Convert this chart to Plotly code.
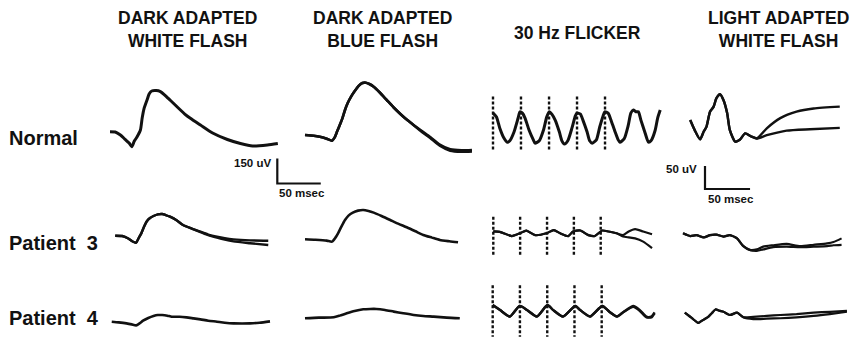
import plotly.graph_objects as go

W, H = 864, 341

# ---------------- data (time in ms, amplitude in uV) ----------------
# Dark adapted, white flash
DAW_N_T = [0, 6, 12, 17, 22, 25, 28, 31, 35, 37, 39, 43, 45, 48, 53, 58, 63, 69, 75, 81, 86, 92, 104, 118, 135, 150, 164, 181, 193]
DAW_N_V = [0, -2, -20, -44, -68, -90, -56, -32, 10, 82, 136, 196, 226, 244, 247, 241, 220, 190, 160, 130, 106, 82, 40, -8, -47, -71, -86, -80, -71]
DAW_P3_T = [6, 14, 21, 26, 30, 33, 36, 39, 42, 46, 50, 55, 60, 64, 69, 77, 84, 94, 104, 113, 123, 132, 142, 161, 182]
DAW_P3_VA = [0, -2, -17, -35, -42, -14, 14, 52, 84, 106, 118, 128, 130, 124, 114, 91, 64, 43, 24, 7, -6, -15, -22, -28, -30]
DAW_P3_VB = [0, -2, -17, -35, -42, -14, 14, 52, 84, 106, 118, 128, 130, 124, 114, 91, 64, 43, 22, 3, -12, -24, -34, -45, -56]
DAW_P4_T = [2, 10, 19, 25, 30, 34, 38, 44, 50, 55, 60, 66, 71, 80, 88, 96, 104, 113, 123, 132, 142, 152, 161, 172, 184]
DAW_P4_V = [0, -4, -10, -16, -22, -10, 6, 22, 34, 40, 40, 36, 30, 30, 26, 20, 14, 6, 0, -6, -10, -11, -10, -6, 2]

# Dark adapted, blue flash
DAB_N_T = [0, 10, 17, 25, 31, 34, 37, 40, 43, 46, 49, 53, 57, 62, 66, 70, 74, 79, 86, 94, 102, 110, 118, 126, 134, 144, 155, 167, 180, 192]
DAB_N_VA = [0, -4, -10, -22, -34, -16, 22, 60, 100, 150, 190, 230, 262, 296, 312, 314, 306, 290, 255, 210, 165, 125, 88, 56, 25, -12, -58, -86, -92, -90]
DAB_N_VB = [0, -4, -10, -22, -34, -16, 22, 60, 100, 150, 190, 230, 262, 296, 312, 314, 306, 290, 255, 210, 165, 125, 88, 54, 20, -18, -64, -94, -100, -98]
DAB_P3_T = [0, 12, 25, 31, 35, 38, 42, 46, 50, 55, 61, 67, 73, 79, 88, 98, 107, 117, 127, 136, 146, 155, 166, 176]
DAB_P3_V = [0, -3, -8, -14, 10, 36, 78, 116, 142, 160, 172, 176, 170, 160, 140, 116, 94, 72, 48, 26, 10, -4, -12, -18]
DAB_P4_T = [0, 16, 33, 40, 48, 57, 67, 75, 82, 92, 102, 113, 125, 136, 148, 163, 178]
DAB_P4_V = [0, 4, 6, 16, 30, 44, 54, 56, 56, 50, 40, 30, 20, 14, 10, 4, 0]

# 30 Hz flicker
FLASH_TIMES = [0, 33.3, 66.7, 100, 133.3]
FLK_N_T = [0, 4, 8, 13, 17, 20, 25, 30, 32, 35, 38, 43, 48, 50, 55, 60, 64, 67, 70, 74, 79, 82, 85, 89, 94, 98, 100, 104, 107, 112,
           115, 118, 123, 127, 131, 133, 137, 140, 145, 149, 151, 156, 161, 164, 167, 170, 173, 176, 181, 185, 188, 193, 196, 199]
FLK_N_V = [30, 22, -2, -24, -33, -30, -11, 20, 33, 30, 20, -7, -28, -35, -30, -7, 22, 33, 28, 15, -11, -30, -37, -30, -2, 24, 30, 28, 15, -11,
           -30, -35, -28, 0, 24, 33, 30, 17, -9, -28, -33, -26, 4, 30, 37, 33, 33, 15, -13, -33, -30, -7, 20, 37]
FLK_P3_T = [0, 8, 23, 33, 41, 52, 66, 75, 83, 93, 99, 108, 118, 126, 135, 143, 153, 161, 168, 176, 186, 197]
FLK_P3_VA = [4, 3, -6, 0, 6, -4, 0, 7, 0, -6, 4, 6, -4, -6, 6, 4, 0, -4, 4, 9, 4, -2]
FLK_P3_VB = [4, 3, -6, 0, 6, -4, 0, 7, 0, -6, 4, 6, -4, -6, 6, 4, 0, -7, -9, -11, -18, -32]
FLK_P4_T = [0, 9, 21, 33, 42, 54, 67, 74, 86, 101, 107, 119, 134, 143, 152, 160, 172, 180, 188, 194, 198]
FLK_P4_VA = [13, 2, -12, 11, 2, -12, 13, 2, -12, 11, 2, -12, 11, -2, -12, -2, 11, 2, -12, -14, -5]
FLK_P4_VB = [13, 2, -12, 11, 2, -12, 13, 2, -12, 11, 2, -12, 11, -2, -12, -2, 9, 0, -14, -12, -3]
FLASH_TOP = [66, 36, 56]
FLASH_BOTTOM = [-50, -47, -56]

# Light adapted, white flash
LA_N_T_A = [8, 13, 19, 23, 26, 30, 34, 37, 41, 45, 49, 52, 58, 63, 69, 76, 82, 93, 108, 126, 145, 174]
LA_N_V_A = [0, -22, -42, -25, -15, 18, 29, 47, 56, 43, 15, -22, -47, -43, -29, -36, -40, -18, 4, 18, 25, 29]
LA_N_T_B = [8, 13, 19, 23, 26, 30, 34, 37, 41, 45, 49, 52, 58, 63, 69, 76, 82, 93, 115, 141, 174]
LA_N_V_B = [0, -22, -42, -25, -15, 18, 29, 47, 56, 43, 15, -22, -47, -43, -29, -36, -40, -33, -23, -20, -17]
LA_P3_T = [0, 8, 15, 23, 30, 37, 45, 52, 60, 67, 74, 82, 89, 100, 115, 130, 145, 160, 167, 176]
LA_P3_VA = [0, -6, -4, -9, -4, -3, -7, -4, -11, -28, -36, -35, -29, -26, -23, -28, -25, -22, -19, -11]
LA_P3_VB = [0, -6, -4, -9, -4, -3, -7, -4, -11, -28, -36, -38, -35, -30, -29, -30, -29, -28, -26, -25]
LA_P4_T = [2, 10, 17, 23, 28, 32, 36, 41, 45, 52, 60, 67, 78, 93, 108, 126, 145, 163, 182]
LA_P4_VA = [0, -12, -22, -15, -9, -1, 7, 4, 2, -5, 0, -10, -9, -7, -5, -3, 0, 2, 4]
LA_P4_VB = [0, -12, -22, -15, -9, -1, 7, 4, 2, -5, 0, -10, -14, -13, -12, -10, -7, -3, 2]

# Scale bars
DARK_BAR_UV, DARK_BAR_MS = 150, 50
LIGHT_BAR_UV, LIGHT_BAR_MS = 50, 50

COL_TITLES = ["DARK ADAPTED<br>WHITE FLASH", "DARK ADAPTED<br>BLUE FLASH", "30 Hz FLICKER", "LIGHT ADAPTED<br>WHITE FLASH"]
ROW_LABELS = ["Normal", "Patient\u00a0\u00a03", "Patient\u00a0\u00a04"]

# ---------------- layout: panel origin (px) and scale (ms/px, uV/px) ----------------
INK = "#111111"
panels = [
    # (traces [(t, v)], origin_x, origin_y, ms_per_px, uv_per_px, line width)
    ([(DAW_N_T, DAW_N_V)], 110, 131.7, 1.15, 6.0, 3.0),
    ([(DAW_P3_T, DAW_P3_VA), (DAW_P3_T, DAW_P3_VB)], 110, 235.7, 1.15, 6.0, 2.4),
    ([(DAW_P4_T, DAW_P4_V)], 110, 321.7, 1.15, 6.0, 2.6),
    ([(DAB_N_T, DAB_N_VA), (DAB_N_T, DAB_N_VB)], 305, 135, 1.15, 6.0, 2.6),
    ([(DAB_P3_T, DAB_P3_V)], 305, 239.3, 1.15, 6.0, 2.6),
    ([(DAB_P4_T, DAB_P4_V)], 305, 318.3, 1.15, 6.0, 2.6),
    ([(FLK_N_T, FLK_N_V)], 493, 127, 1.19, 2.17, 3.0),
    ([(FLK_P3_T, FLK_P3_VA), (FLK_P3_T, FLK_P3_VB)], 493.3, 233.3, 1.241, 2.17, 2.2),
    ([(FLK_P4_T, FLK_P4_VA), (FLK_P4_T, FLK_P4_VB)], 492.7, 311, 1.223, 2.17, 2.4),
    ([(LA_N_T_A, LA_N_V_A), (LA_N_T_B, LA_N_V_B)], 683, 120, 1.11, 2.17, 2.4),
    ([(LA_P3_T, LA_P3_VA), (LA_P3_T, LA_P3_VB)], 683, 233.3, 1.11, 2.17, 2.2),
    ([(LA_P4_T, LA_P4_VA), (LA_P4_T, LA_P4_VB)], 683, 312.7, 1.11, 2.17, 2.2),
]
FLICKER_PANELS = [6, 7, 8]
SCALE_BARS = [
    (DARK_BAR_UV, DARK_BAR_MS, 277.3, 183.5, 1.15, 6.0),
    (LIGHT_BAR_UV, LIGHT_BAR_MS, 705, 189, 1.11, 2.17),
]

fig = go.Figure()
layout = {}


def add_axes(n, ox, oy, kt, kv):
    xr = [-ox * kt, (W - ox) * kt]
    yr = [-(H - oy) * kv, oy * kv]
    xa = dict(domain=[0, 1], range=xr, visible=False, fixedrange=True, anchor=f"y{n}" if n > 1 else "y")
    ya = dict(domain=[0, 1], range=yr, visible=False, fixedrange=True, anchor=f"x{n}" if n > 1 else "x")
    if n > 1:
        xa["overlaying"] = "x"
        ya["overlaying"] = "y"
    layout["xaxis" if n == 1 else f"xaxis{n}"] = xa
    layout["yaxis" if n == 1 else f"yaxis{n}"] = ya
    return ("x" if n == 1 else f"x{n}"), ("y" if n == 1 else f"y{n}")


n = 0
for pi, (traces, ox, oy, kt, kv, lw) in enumerate(panels):
    n += 1
    xa, ya = add_axes(n, ox, oy, kt, kv)
    if pi in FLICKER_PANELS:
        r = FLICKER_PANELS.index(pi)
        xs, ys = [], []
        for ft in FLASH_TIMES:
            xs += [ft, ft, None]
            ys += [FLASH_TOP[r], FLASH_BOTTOM[r], None]
        fig.add_trace(go.Scatter(x=xs, y=ys, mode="lines", xaxis=xa, yaxis=ya,
                                 line=dict(color=INK, width=2.4, dash="3px,2px"),
                                 hoverinfo="skip", showlegend=False))
    for t, v in traces:
        fig.add_trace(go.Scatter(x=t, y=v, mode="lines", xaxis=xa, yaxis=ya,
                                 line=dict(color=INK, width=lw, shape="spline", smoothing=0.6),
                                 hoverinfo="skip", showlegend=False))

for uv, ms, ox, oy, kt, kv in SCALE_BARS:
    n += 1
    xa, ya = add_axes(n, ox, oy, kt, kv)
    fig.add_trace(go.Scatter(x=[0, 0, ms], y=[uv, 0, 0], mode="lines", xaxis=xa, yaxis=ya,
                             line=dict(color=INK, width=2.2), hoverinfo="skip", showlegend=False))

TITLE_FONT = dict(family="Liberation Sans, Arial, sans-serif", size=17.5, color=INK, weight="bold")
ROW_FONT = dict(family="Liberation Sans, Arial, sans-serif", size=20, color=INK, weight="bold")
BAR_FONT = dict(family="Liberation Sans, Arial, sans-serif", size=11.5, color=INK, weight="bold")

annotations = []
title_pos = [(187, 29.5), (382, 29.5), (577, 33), (778, 29.5)]
for txt, (px, py) in zip(COL_TITLES, title_pos):
    annotations.append(dict(text=txt, x=px / W, y=1 - py / H, xref="paper", yref="paper",
                            xanchor="center", yanchor="middle", showarrow=False, font=TITLE_FONT))
row_pos = [138, 243, 318]
for txt, py in zip(ROW_LABELS, row_pos):
    annotations.append(dict(text=txt, x=7 / W, y=1 - py / H, xref="paper", yref="paper",
                            xanchor="left", yanchor="middle", showarrow=False, font=ROW_FONT))
bar_labels = [
    (f"{DARK_BAR_UV} uV", 273, 163, "right"),
    (f"{DARK_BAR_MS} msec", 277, 193, "left"),
    (f"{LIGHT_BAR_UV} uV", 699, 169, "right"),
    (f"{LIGHT_BAR_MS} msec", 706, 198.5, "left"),
]
for txt, px, py, anc in bar_labels:
    annotations.append(dict(text=txt, x=px / W, y=1 - py / H, xref="paper", yref="paper",
                            xanchor=anc, yanchor="middle", showarrow=False, font=BAR_FONT))

fig.update_layout(**layout)
fig.update_layout(width=W, height=H, margin=dict(l=0, r=0, t=0, b=0),
                  paper_bgcolor="white", plot_bgcolor="white",
                  annotations=annotations, showlegend=False)
fig.write_html("out.html", config={"displayModeBar": False})
